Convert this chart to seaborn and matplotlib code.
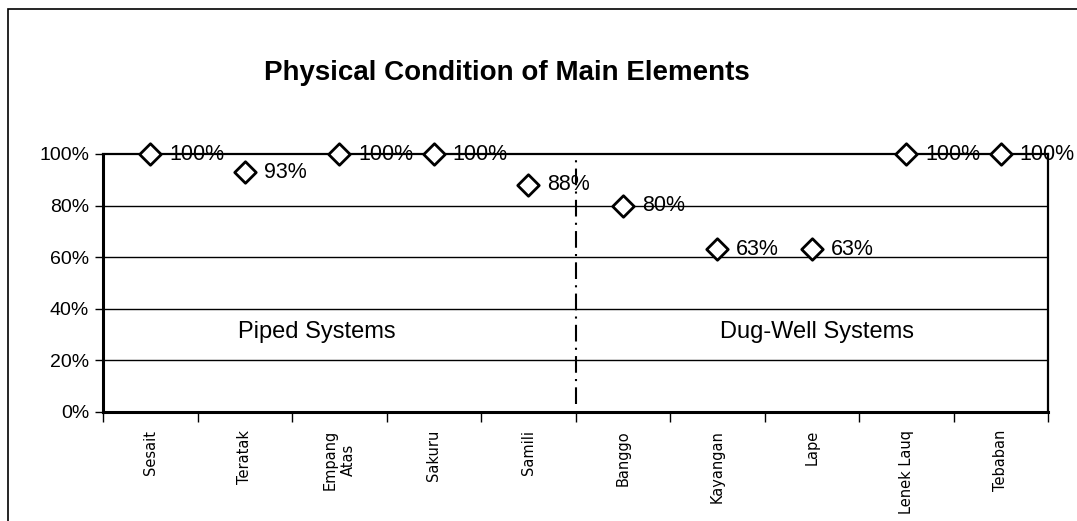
import matplotlib
matplotlib.use("Agg")
import matplotlib.pyplot as plt
import seaborn as sns
import pandas as pd
from matplotlib.patches import Rectangle
from matplotlib.ticker import FixedLocator, FuncFormatter

sites = ["Sesait", "Teratak", "Empang\nAtas", "Sakuru", "Samili",
         "Banggo", "Kayangan", "Lape", "Lenek Lauq", "Tebaban"]
values = [100, 93, 100, 100, 88, 80, 63, 63, 100, 100]
group_labels = ["Piped Systems", "Dug-Well Systems"]
title = "Physical Condition of Main Elements"

df = pd.DataFrame({"site": sites, "value": values})

sns.set_theme(style="white")
plt.rcParams["font.family"] = ["Liberation Sans", "DejaVu Sans"]
plt.rcParams["text.color"] = "black"
plt.rcParams["xtick.color"] = "black"
plt.rcParams["ytick.color"] = "black"

fig = plt.figure(figsize=(10.77, 5.21), dpi=100)
ax = fig.add_axes([103/1077, 109/521, 945/1077, 258/521])

# outer figure border
fig.patches.append(Rectangle((8/1077, -0.05), 1.2, (521-9)/521 + 0.05,
                             transform=fig.transFigure, fill=False,
                             edgecolor="black", linewidth=1.2))

sns.scatterplot(data=df, x="site", y="value", ax=ax, marker="D", s=120,
                facecolor="white", edgecolor="black", linewidth=2, zorder=5,
                clip_on=False)

for i, v in enumerate(values):
    ax.text(i + 0.2, v, f"{v}%", ha="left", va="center", fontsize=15.5,
            color="black", zorder=6, clip_on=False)

ax.set_xlim(-0.5, len(sites) - 0.5)
ax.set_ylim(0, 100)

for y in [20, 40, 60, 80]:
    ax.axhline(y, color="black", linewidth=1, zorder=1)

# divider between system types
ax.plot([4.5, 4.5], [3, 98], color="black", linewidth=1.5,
        linestyle=(0, (8, 3, 1, 3)), zorder=2)

ax.text(1.76, 31, group_labels[0], ha="center", va="center", fontsize=17,
        color="black")
ax.text(7.06, 31, group_labels[1], ha="center", va="center", fontsize=17,
        color="black")

ax.set_yticks([0, 20, 40, 60, 80, 100])
ax.yaxis.set_major_formatter(FuncFormatter(lambda v, p: f"{int(v)}%"))
ax.tick_params(axis="y", labelsize=14, length=6, width=1, direction="out",
               left=True, pad=4, colors="black")

ax.set_xticks(range(len(sites)))
ax.set_xticklabels(sites, rotation=90, va="top", ha="center",
                   fontsize=10.5, family="DejaVu Sans", linespacing=1.3,
                   color="black")
ax.tick_params(axis="x", which="major", length=0, pad=13)
ax.xaxis.set_minor_locator(FixedLocator([k - 0.5 for k in range(len(sites) + 1)]))
ax.tick_params(axis="x", which="minor", length=7, width=1, direction="out",
               bottom=True, color="black")

ax.set_xlabel("")
ax.set_ylabel("")

for side in ["left", "bottom"]:
    ax.spines[side].set_linewidth(2.2)
for side in ["top", "right"]:
    ax.spines[side].set_linewidth(1.6)
for s in ax.spines.values():
    s.set_color("black")
    s.set_visible(True)

fig.text(507/1077, 1 - 73/521, title, ha="center", va="center",
         fontsize=20, fontweight="bold", color="black")

fig.savefig("out.png", dpi=100, facecolor="white")
